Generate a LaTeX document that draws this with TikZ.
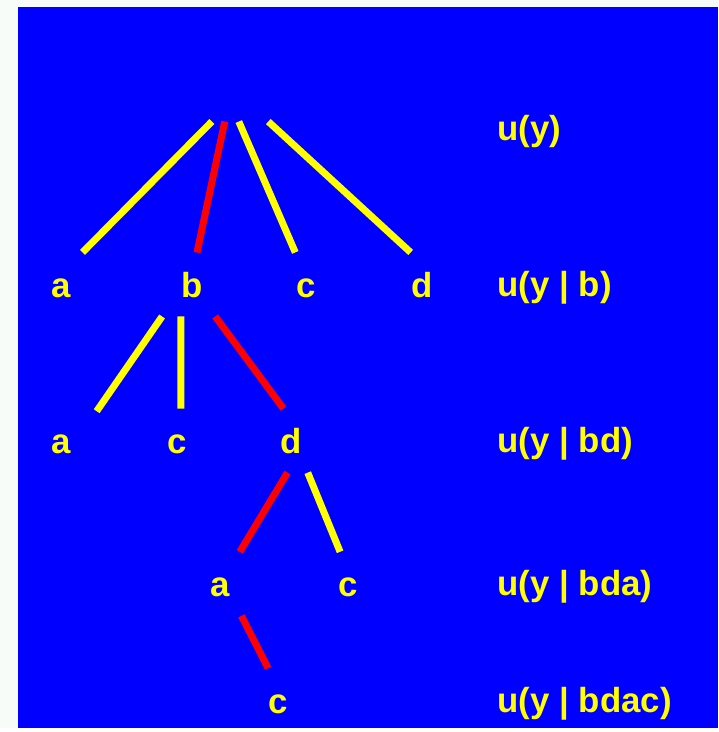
\documentclass[tikz,border=0pt]{standalone}
\usepackage{fontspec}
\setmainfont{Liberation Sans}
\definecolor{paper}{HTML}{F8FCF8}
\definecolor{slideblue}{HTML}{0000FF}
\definecolor{leafyellow}{HTML}{FFFF00}
\definecolor{pathred}{HTML}{FF0000}
\usetikzlibrary{positioning}

\begin{document}
\begin{tikzpicture}[x=1pt,y=-1pt,
  lbl/.style={text=leafyellow,font=\fontsize{35}{38}\selectfont\bfseries,
    text height=26pt,text depth=0pt,inner sep=0pt,
    minimum width=70pt,minimum height=64pt},
  util/.style={text=leafyellow,font=\fontsize{35}{38}\selectfont\bfseries,
    anchor=base west,inner sep=0pt},
  branch/.style={leafyellow,line width=7pt},
  chosen/.style={pathred,line width=7pt}]
  % Slide background
  \fill[paper] (0,0) rectangle (722,732);
  \fill[slideblue] (18,7) rectangle (722,732);
  % Root of the tree (no label)
  \node[minimum width=80pt,minimum height=52pt,inner sep=0pt] (root) at (235,96) {};
  % Level 1
  \node[lbl] (a1) at (62,286) {a};
  \node[lbl] (b1) at (193,286) {b};
  \node[lbl] (c1) at (308,286) {c};
  \node[lbl] (d1) at (424,286) {d};
  % Level 2
  \node[lbl] (a2) at (62,443) {a};
  \node[lbl] (c2) at (178,443) {c};
  \node[lbl] (d2) at (293,443) {d};
  % Level 3
  \node[lbl] (a3) at (221,587) {a};
  \node[lbl] (c3) at (350,587) {c};
  % Level 4
  \node[lbl] (c4) at (280,704) {c};
  % Branches
  \draw[branch] (root.-130) -- (a1.57);
  \draw[chosen] (root.-109) -- (b1.81);
  \draw[branch] (root.-79) -- (c1.109);
  \draw[branch] (root.-37) -- (d1.109);
  \draw[branch] (b1.-133) -- (a2.40);
  \draw[branch] (b1.-109) -- (c2.83);
  \draw[chosen] (b1.-54) -- (d2.104);
  \draw[chosen] (d2.-97) -- (a3.58);
  \draw[branch] (d2.-63) -- (c3.104);
  \draw[chosen] (a3.-56) -- (c4.108);
  % Utilities per level
  \node[util] (u0) at (500,141) {u(y)};
  \node[util] (u1) at (500,298) {u(y | b)};
  \node[util] (u2) at (500,455) {u(y | bd)};
  \node[util] (u3) at (500,599) {u(y | bda)};
  \node[util] (u4) at (500,716) {u(y | bdac)};
\end{tikzpicture}
\end{document}
